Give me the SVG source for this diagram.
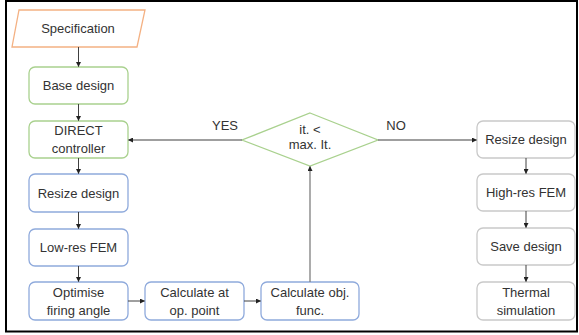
<svg xmlns="http://www.w3.org/2000/svg" width="579" height="335" viewBox="0 0 579 335">
<defs>
<style>
text{font-family:"Liberation Sans",Arial,sans-serif;font-size:13px;fill:#333;text-anchor:middle}
.box{fill:#fff;stroke-width:1.3}
.g{stroke:#A9D18E}
.b{stroke:#8FAADC}
.o{stroke:#F4B183}
.k{stroke:#C9C9C9}
.c{fill:none;stroke:#404040;stroke-width:1}
.l{fill:none;stroke:#7F7F7F;stroke-width:1.3}
</style>
<marker id="ah" viewBox="0 0 10 10" refX="9" refY="5" markerWidth="5" markerHeight="5" orient="auto" markerUnits="userSpaceOnUse">
<path d="M0,0 L10,5 L0,10 z" fill="#222"/>
</marker>
</defs>
<rect x="6" y="1" width="571" height="330.5" fill="#fff" stroke="#000" stroke-width="2"/>
<g id="spec"><polygon class="box o" points="19,10 145,10 137,47 12,47"/><text x="78" y="33">Specification</text></g>
<g id="base"><rect class="box g" x="29" y="67" width="99" height="37" rx="6"/><text x="78.5" y="90">Base design</text></g>
<g id="direct"><rect class="box g" x="29" y="121" width="99" height="37" rx="6"/><text x="78.5" y="135">DIRECT</text><text x="78.5" y="153">controller</text></g>
<g id="resize1"><rect class="box b" x="29" y="174" width="99" height="38" rx="6"/><text x="78.5" y="198">Resize design</text></g>
<g id="lowres"><rect class="box b" x="29" y="229" width="99" height="37" rx="6"/><text x="78.5" y="252">Low-res FEM</text></g>
<g id="optimise"><rect class="box b" x="29" y="282" width="99" height="38" rx="6"/><text x="78.5" y="297">Optimise</text><text x="78.5" y="315">firing angle</text></g>
<g id="calcop"><rect class="box b" x="145" y="282" width="99" height="38" rx="6"/><text x="194.5" y="297">Calculate at</text><text x="194.5" y="315">op. point</text></g>
<g id="calcobj"><rect class="box b" x="261" y="282" width="98" height="38" rx="6"/><text x="310" y="297">Calculate obj.</text><text x="310" y="315">func.</text></g>
<g id="decision"><polygon class="box g" points="310,113 378,140 310,166 242,140"/><text x="310" y="134">it. &lt;</text><text x="310" y="149">max. It.</text></g>
<g id="resize2"><rect class="box k" x="477" y="121" width="98" height="37" rx="6"/><text x="526" y="144">Resize design</text></g>
<g id="highres"><rect class="box k" x="477" y="174" width="98" height="37" rx="6"/><text x="526" y="197">High-res FEM</text></g>
<g id="save"><rect class="box k" x="477" y="228" width="98" height="37" rx="6"/><text x="526" y="251">Save design</text></g>
<g id="thermal"><rect class="box k" x="477" y="282" width="98" height="38" rx="6"/><text x="526" y="297">Thermal</text><text x="526" y="315">simulation</text></g>
<g id="connectors">
<path class="c" d="M78.5,47 V66.5" marker-end="url(#ah)"/>
<path class="c" d="M78.5,104 V120.5" marker-end="url(#ah)"/>
<path class="c" d="M78.5,158 V173.5" marker-end="url(#ah)"/>
<path class="c" d="M78.5,212 V228.5" marker-end="url(#ah)"/>
<path class="c" d="M78.5,266 V281.5" marker-end="url(#ah)"/>
<path class="c" d="M128,301 H144.5" marker-end="url(#ah)"/>
<path class="c" d="M244,301 H260.5" marker-end="url(#ah)"/>
<path class="l" d="M310,282 V166.5" marker-end="url(#ah)"/>
<path class="l" d="M242,140 H128.5" marker-end="url(#ah)"/>
<path class="l" d="M378,140 H476.5" marker-end="url(#ah)"/>
<path class="c" d="M526,158 V173.5" marker-end="url(#ah)"/>
<path class="c" d="M526,211 V227.5" marker-end="url(#ah)"/>
<path class="c" d="M526,265 V281.5" marker-end="url(#ah)"/>
<text x="225" y="130">YES</text>
<text x="396" y="130">NO</text>
</g>
</svg>
